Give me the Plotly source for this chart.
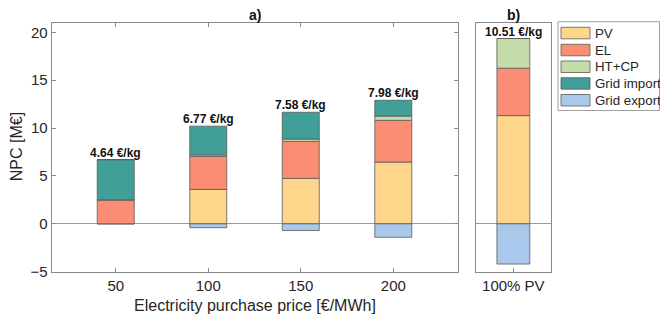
import plotly.graph_objects as go

# Net present cost breakdown by electricity purchase price
prices = [50, 100, 150, 200]
pv = [0.0, 3.6, 4.75, 6.45]
el = [2.5, 3.45, 3.85, 4.35]
ht_cp = [0.0, 0.15, 0.25, 0.45]
grid_import = [4.2, 3.0, 2.8, 1.65]
grid_export = [0.0, -0.4, -0.7, -1.4]
lcoh_labels = ["4.64 €/kg", "6.77 €/kg", "7.58 €/kg", "7.98 €/kg"]

# Stand-alone 100% PV case
pv_only_cat = ["100% PV"]
pv_only_pv = [11.3]
pv_only_el = [4.95]
pv_only_ht_cp = [3.1]
pv_only_grid_import = [0.0]
pv_only_grid_export = [-4.2]
pv_only_label = ["10.51 €/kg"]

series_names = ["PV", "EL", "HT+CP", "Grid import", "Grid export"]
series_colors = ["#FDD68C", "#FA8D74", "#C3DCAA", "#40A098", "#A9C8EC"]

FONT = "Liberation Sans, Arial, sans-serif"
TXT = "#262626"
AXC = "#8a8a8a"
EDGE = "#5a5a5a"

W, H = 660, 320
def px_x(p):
    return p / W
def px_y(p):
    return 1 - p / H

fig = go.Figure()

left_sets = [pv, el, ht_cp, grid_import, grid_export]
right_sets = [pv_only_pv, pv_only_el, pv_only_ht_cp, pv_only_grid_import, pv_only_grid_export]

for name, color, vals in zip(series_names, series_colors, left_sets):
    fig.add_trace(go.Bar(x=prices, y=vals, name=name, width=20,
                         marker=dict(color=color, line=dict(color=EDGE, width=0.8)),
                         showlegend=False, xaxis="x", yaxis="y"))
for name, color, vals in zip(series_names, series_colors, right_sets):
    fig.add_trace(go.Bar(x=[1], y=vals, name=name, width=0.44,
                         marker=dict(color=color, line=dict(color=EDGE, width=0.8)),
                         showlegend=False, xaxis="x2", yaxis="y2"))

yr = [-5, 21]
ydom = [px_y(271.7), px_y(22.7)]

fig.update_layout(
    width=W, height=H,
    margin=dict(l=0, r=0, t=0, b=0),
    paper_bgcolor="white", plot_bgcolor="white",
    barmode="relative",
    font=dict(family=FONT, color=TXT, size=15),
    xaxis=dict(domain=[px_x(51.7), px_x(457.7)], range=[15.4, 234.8],
               tickvals=prices, ticktext=[str(p) for p in prices],
               ticks="inside", ticklen=4, tickcolor=AXC, mirror="ticks",
               showline=True, linecolor=AXC, linewidth=1, showgrid=False,
               zeroline=False, anchor="y", automargin=False,
               tickfont=dict(size=15, color=TXT)),
    yaxis=dict(domain=ydom, range=yr, tickvals=[-5, 0, 5, 10, 15, 20],
               ticks="inside", ticklen=4, tickcolor=AXC, mirror="ticks",
               showline=True, linecolor=AXC, linewidth=1, showgrid=False,
               zeroline=True, zerolinecolor="#9a9a9a", zerolinewidth=1,
               anchor="x", automargin=False,
               tickfont=dict(size=15, color=TXT)),
    xaxis2=dict(domain=[px_x(476), px_x(550.7)], range=[0.5, 1.5],
                tickvals=[1], ticktext=pv_only_cat,
                ticks="inside", ticklen=4, tickcolor=AXC, mirror=True,
                showline=True, linecolor=AXC, linewidth=1, showgrid=False,
                zeroline=False, anchor="y2", automargin=False,
                tickfont=dict(size=15, color=TXT)),
    yaxis2=dict(domain=ydom, range=yr, showticklabels=False, ticks="",
                mirror=True, showline=True, linecolor=AXC, linewidth=1,
                showgrid=False, zeroline=True, zerolinecolor="#9a9a9a",
                zerolinewidth=1, anchor="x2", automargin=False),
)

# Cost-of-hydrogen labels above each stacked bar
for x, a, b, c, d, lab in zip(prices, pv, el, ht_cp, grid_import, lcoh_labels):
    fig.add_annotation(x=x, y=a + b + c + d, xref="x", yref="y", text=f"<b>{lab}</b>",
                       showarrow=False, xanchor="center", yanchor="bottom", yshift=-2,
                       font=dict(size=12, color="#111"))
fig.add_annotation(x=1, y=pv_only_pv[0] + pv_only_el[0] + pv_only_ht_cp[0] + pv_only_grid_import[0],
                   xref="x2", yref="y2", text=f"<b>{pv_only_label[0]}</b>",
                   showarrow=False, xanchor="center", yanchor="bottom", yshift=-2,
                   font=dict(size=12, color="#111"))

# Panel titles and axis titles
def paper_text(xp, yp, text, size, color=TXT, angle=0, xanchor="center"):
    fig.add_annotation(x=px_x(xp), y=px_y(yp), xref="paper", yref="paper", text=text,
                       showarrow=False, xanchor=xanchor, yanchor="middle",
                       textangle=angle, font=dict(size=size, color=color))

paper_text(255, 15, "<b>a)</b>", 14, "#111")
paper_text(513.3, 15, "<b>b)</b>", 14, "#111")
paper_text(254.7, 305.5, "Electricity purchase price [€/MWh]", 16)
paper_text(16, 147.2, "NPC [M€]", 16, angle=-90)

# Legend drawn as swatches with labels
fig.add_shape(type="rect", xref="paper", yref="paper",
              x0=px_x(558), x1=px_x(659.5), y0=px_y(110.5), y1=px_y(21.7),
              line=dict(color="#a0a0a0", width=1), fillcolor="white", layer="below")
row_tops = [27.3, 44.3, 61.0, 77.7, 94.5]
for top, name, color in zip(row_tops, series_names, series_colors):
    fig.add_shape(type="rect", xref="paper", yref="paper",
                  x0=px_x(561), x1=px_x(590), y0=px_y(top + 11.5), y1=px_y(top),
                  line=dict(color=EDGE, width=0.8), fillcolor=color)
    paper_text(592.5, top + 5.8, name, 13.3, xanchor="left")

fig.write_html("out.html")
